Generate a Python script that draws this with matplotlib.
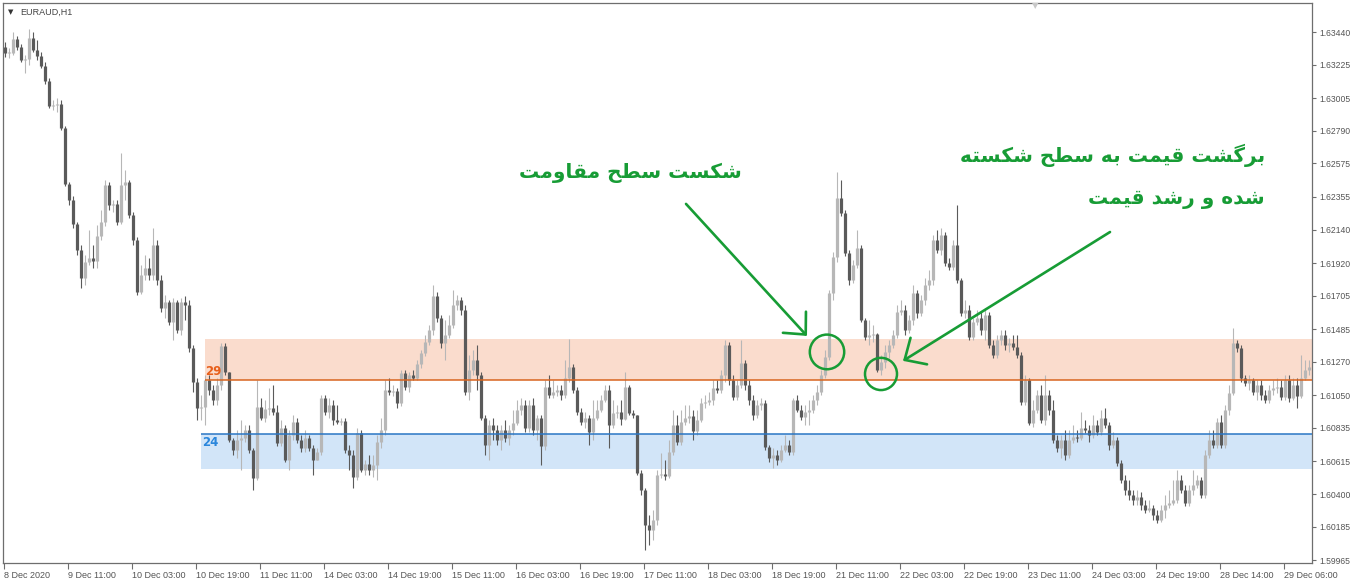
import matplotlib
matplotlib.use("Agg")
import matplotlib.pyplot as plt
import numpy as np
from matplotlib.patches import Ellipse

# EURAUD H1 candles (prices), open = previous close
first_open = 1.63342
closes = [
    1.63302, 1.63302, 1.63394, 1.63342, 1.63256, 1.63263, 1.63401, 1.63322, 1.63282, 1.63217,
    1.63118, 1.62954, 1.62960, 1.62967, 1.62809, 1.62440, 1.62335, 1.62177, 1.62006, 1.61822,
    1.61927, 1.61953, 1.61933, 1.62098, 1.62190, 1.62434, 1.62302, 1.62309, 1.62190, 1.62434,
    1.62453, 1.62236, 1.62072, 1.61730, 1.61841, 1.61887, 1.61841, 1.62039, 1.61808, 1.61624,
    1.61664, 1.61532, 1.61664, 1.61480, 1.61664, 1.61644, 1.61361, 1.61137, 1.60966, 1.60973,
    1.61151, 1.61085, 1.61019, 1.61118, 1.61374, 1.61203, 1.60756, 1.60690, 1.60756, 1.60769,
    1.60822, 1.60690, 1.60506, 1.60973, 1.60901, 1.60960, 1.60966, 1.60940, 1.60736, 1.60835,
    1.60624, 1.60789, 1.60874, 1.60756, 1.60703, 1.60769, 1.60703, 1.60624, 1.60677, 1.61032,
    1.60940, 1.60986, 1.60887, 1.60874, 1.60881, 1.60690, 1.60657, 1.60512, 1.60802, 1.60558,
    1.60598, 1.60558, 1.60591, 1.60743, 1.60822, 1.61085, 1.61072, 1.61078, 1.60999, 1.61197,
    1.61105, 1.61183, 1.61164, 1.61256, 1.61328, 1.61401, 1.61480, 1.61703, 1.61559, 1.61394,
    1.61447, 1.61512, 1.61644, 1.61677, 1.61611, 1.61072, 1.61216, 1.61282, 1.61183, 1.60901,
    1.60723, 1.60854, 1.60822, 1.60756, 1.60822, 1.60769, 1.60822, 1.60868, 1.60953, 1.60986,
    1.60835, 1.60986, 1.60822, 1.60901, 1.60716, 1.61105, 1.61052, 1.61072, 1.61085, 1.61052,
    1.61164, 1.61236, 1.61085, 1.60940, 1.60874, 1.60901, 1.60809, 1.60901, 1.60953, 1.61019,
    1.61085, 1.60854, 1.60934, 1.60940, 1.60894, 1.61105, 1.60934, 1.60920, 1.60539, 1.60427,
    1.60196, 1.60164, 1.60229, 1.60525, 1.60532, 1.60519, 1.60677, 1.60854, 1.60743, 1.60874,
    1.60901, 1.60914, 1.60815, 1.60887, 1.60999, 1.61006, 1.61019, 1.61098, 1.61085, 1.61183,
    1.61381, 1.61151, 1.61039, 1.61118, 1.61262, 1.61118, 1.61019, 1.60920, 1.60986, 1.60999,
    1.60710, 1.60637, 1.60657, 1.60624, 1.60690, 1.60723, 1.60677, 1.61019, 1.60953, 1.60907,
    1.60940, 1.60953, 1.61019, 1.61072, 1.61183, 1.61302, 1.61723, 1.61960, 1.62348, 1.62250,
    1.61986, 1.61808, 1.61907, 1.62019, 1.61545, 1.61434, 1.61447, 1.61453, 1.61216, 1.61269,
    1.61335, 1.61381, 1.61447, 1.61598, 1.61611, 1.61480, 1.61545, 1.61723, 1.61591, 1.61677,
    1.61776, 1.61808, 1.62072, 1.62006, 1.62105, 1.61920, 1.61894, 1.62039, 1.61808, 1.61591,
    1.61611, 1.61434, 1.61532, 1.61559, 1.61480, 1.61578, 1.61381, 1.61315, 1.61414, 1.61447,
    1.61381, 1.61394, 1.61368, 1.61315, 1.61006, 1.61151, 1.60868, 1.60953, 1.61052, 1.60887,
    1.61052, 1.60953, 1.60756, 1.60703, 1.60756, 1.60657, 1.60756, 1.60775, 1.60769, 1.60835,
    1.60822, 1.60789, 1.60854, 1.60809, 1.60901, 1.60854, 1.60723, 1.60756, 1.60604, 1.60493,
    1.60427, 1.60394, 1.60361, 1.60381, 1.60328, 1.60295, 1.60308, 1.60262, 1.60229, 1.60295,
    1.60328, 1.60341, 1.60361, 1.60493, 1.60427, 1.60341, 1.60427, 1.60460, 1.60493, 1.60394,
    1.60657, 1.60756, 1.60723, 1.60874, 1.60723, 1.60953, 1.61065, 1.61394, 1.61361, 1.61164,
    1.61131, 1.61151, 1.61072, 1.61118, 1.61052, 1.61019, 1.61085, 1.61098, 1.61105, 1.61039,
    1.61151, 1.61032, 1.61118, 1.61045, 1.61164, 1.61216, 1.61236,
]
highs = [
    1.63375, 1.63335, 1.63441, 1.63414, 1.63362, 1.63289, 1.63460, 1.63441, 1.63388, 1.63309,
    1.63243, 1.63138, 1.62993, 1.63006, 1.62993, 1.62822, 1.62453, 1.62361, 1.62190, 1.62039,
    1.61973, 1.62137, 1.62039, 1.62170, 1.62269, 1.62467, 1.62453, 1.62335, 1.62335, 1.62644,
    1.62532, 1.62467, 1.62256, 1.62092, 1.61907, 1.61973, 1.61953, 1.62151, 1.62072, 1.61841,
    1.61710, 1.61677, 1.61690, 1.61677, 1.61690, 1.61703, 1.61677, 1.61381, 1.61164, 1.61052,
    1.61183, 1.61183, 1.61118, 1.61164, 1.61394, 1.61394, 1.61203, 1.60769, 1.60822, 1.60887,
    1.60854, 1.60854, 1.60703, 1.61151, 1.61032, 1.61019, 1.61098, 1.61118, 1.60986, 1.60887,
    1.60854, 1.60822, 1.60920, 1.60901, 1.60789, 1.60822, 1.60789, 1.60723, 1.60703, 1.61052,
    1.61052, 1.61032, 1.61019, 1.60986, 1.60901, 1.60901, 1.60723, 1.60690, 1.60835, 1.60822,
    1.60624, 1.60657, 1.60657, 1.60789, 1.60901, 1.61151, 1.61164, 1.61118, 1.61098, 1.61216,
    1.61216, 1.61203, 1.61216, 1.61282, 1.61348, 1.61447, 1.61512, 1.61776, 1.61730, 1.61578,
    1.61545, 1.61578, 1.61743, 1.61710, 1.61697, 1.61644, 1.61315, 1.61348, 1.61381, 1.61203,
    1.60920, 1.60887, 1.60901, 1.60854, 1.60854, 1.60887, 1.60854, 1.60953, 1.61019, 1.61032,
    1.61019, 1.61019, 1.61032, 1.60920, 1.60920, 1.61151, 1.61183, 1.61151, 1.61118, 1.61118,
    1.61282, 1.61420, 1.61256, 1.61105, 1.60966, 1.60940, 1.60920, 1.61019, 1.61019, 1.61052,
    1.61118, 1.61118, 1.61019, 1.60986, 1.61019, 1.61203, 1.61118, 1.60953, 1.60920, 1.60558,
    1.60440, 1.60262, 1.60295, 1.60558, 1.60670, 1.60624, 1.60756, 1.60953, 1.60920, 1.60953,
    1.60986, 1.60986, 1.60953, 1.60953, 1.61032, 1.61052, 1.61072, 1.61151, 1.61151, 1.61216,
    1.61414, 1.61401, 1.61183, 1.61151, 1.61414, 1.61282, 1.61151, 1.61052, 1.61019, 1.61032,
    1.61019, 1.60723, 1.60703, 1.60690, 1.60723, 1.60789, 1.60756, 1.61032, 1.61052, 1.60986,
    1.60986, 1.61019, 1.61052, 1.61118, 1.61216, 1.61348, 1.61743, 1.61993, 1.62519, 1.62467,
    1.62269, 1.62006, 1.61940, 1.62137, 1.62039, 1.61559, 1.61545, 1.61512, 1.61460, 1.61315,
    1.61381, 1.61414, 1.61480, 1.61644, 1.61677, 1.61644, 1.61578, 1.61776, 1.61743, 1.61710,
    1.61822, 1.61874, 1.62105, 1.62137, 1.62151, 1.62124, 1.61953, 1.62072, 1.62302, 1.61822,
    1.61677, 1.61644, 1.61559, 1.61611, 1.61598, 1.61624, 1.61598, 1.61414, 1.61447, 1.61480,
    1.61480, 1.61427, 1.61447, 1.61447, 1.61335, 1.61183, 1.61164, 1.61019, 1.61085, 1.61118,
    1.61183, 1.61085, 1.61019, 1.60789, 1.60789, 1.60822, 1.60822, 1.60854, 1.60822, 1.60940,
    1.60887, 1.60854, 1.60920, 1.60887, 1.60953, 1.60966, 1.60874, 1.60809, 1.60775, 1.60624,
    1.60525, 1.60493, 1.60427, 1.60427, 1.60414, 1.60361, 1.60361, 1.60328, 1.60295, 1.60328,
    1.60394, 1.60427, 1.60493, 1.60558, 1.60525, 1.60460, 1.60460, 1.60558, 1.60525, 1.60512,
    1.60690, 1.60822, 1.60822, 1.60901, 1.60920, 1.60986, 1.61118, 1.61493, 1.61414, 1.61381,
    1.61183, 1.61183, 1.61164, 1.61151, 1.61151, 1.61085, 1.61118, 1.61151, 1.61164, 1.61151,
    1.61183, 1.61183, 1.61164, 1.61164, 1.61315, 1.61282, 1.61282,
]
lows = [
    1.63276, 1.63269, 1.63289, 1.63322, 1.63243, 1.63171, 1.63223, 1.63309, 1.63256, 1.63204,
    1.63098, 1.62940, 1.62927, 1.62914, 1.62796, 1.62427, 1.62302, 1.62151, 1.61973, 1.61756,
    1.61776, 1.61907, 1.61887, 1.61887, 1.62072, 1.62164, 1.62269, 1.62256, 1.62170, 1.62177,
    1.62335, 1.62216, 1.62039, 1.61710, 1.61717, 1.61808, 1.61808, 1.61808, 1.61776, 1.61598,
    1.61559, 1.61512, 1.61414, 1.61460, 1.61447, 1.61545, 1.61335, 1.61072, 1.60887, 1.60887,
    1.60854, 1.61052, 1.60986, 1.60986, 1.61085, 1.61183, 1.60743, 1.60657, 1.60637, 1.60558,
    1.60743, 1.60670, 1.60427, 1.60493, 1.60887, 1.60874, 1.60920, 1.60920, 1.60716, 1.60716,
    1.60611, 1.60558, 1.60756, 1.60736, 1.60677, 1.60677, 1.60683, 1.60525, 1.60637, 1.60657,
    1.60920, 1.60901, 1.60854, 1.60861, 1.60854, 1.60670, 1.60558, 1.60440, 1.60493, 1.60545,
    1.60525, 1.60525, 1.60512, 1.60493, 1.60703, 1.60789, 1.61052, 1.61045, 1.60966, 1.60979,
    1.61085, 1.61072, 1.61151, 1.61151, 1.61230, 1.61309, 1.61381, 1.61447, 1.61532, 1.61361,
    1.61282, 1.61427, 1.61493, 1.61611, 1.61578, 1.61052, 1.61019, 1.61183, 1.61085, 1.60887,
    1.60657, 1.60624, 1.60756, 1.60723, 1.60690, 1.60743, 1.60723, 1.60789, 1.60854, 1.60920,
    1.60809, 1.60809, 1.60789, 1.60756, 1.60591, 1.60690, 1.61032, 1.61032, 1.61045, 1.61019,
    1.61032, 1.61137, 1.61065, 1.60920, 1.60854, 1.60835, 1.60723, 1.60756, 1.60887, 1.60940,
    1.61006, 1.60703, 1.60835, 1.60901, 1.60854, 1.60887, 1.60920, 1.60901, 1.60525, 1.60394,
    1.60032, 1.60065, 1.60098, 1.60196, 1.60506, 1.60493, 1.60506, 1.60657, 1.60723, 1.60723,
    1.60854, 1.60868, 1.60756, 1.60789, 1.60874, 1.60966, 1.60986, 1.60986, 1.61065, 1.61065,
    1.61137, 1.61118, 1.61019, 1.61019, 1.61098, 1.61085, 1.60986, 1.60887, 1.60901, 1.60953,
    1.60690, 1.60611, 1.60571, 1.60591, 1.60611, 1.60677, 1.60657, 1.60657, 1.60940, 1.60887,
    1.60854, 1.60854, 1.60934, 1.60986, 1.61052, 1.61164, 1.61282, 1.61677, 1.61927, 1.62230,
    1.61967, 1.61776, 1.61789, 1.61887, 1.61532, 1.61414, 1.61381, 1.61401, 1.61203, 1.61183,
    1.61230, 1.61295, 1.61361, 1.61427, 1.61578, 1.61447, 1.61460, 1.61512, 1.61559, 1.61572,
    1.61644, 1.61743, 1.61776, 1.61986, 1.61973, 1.61901, 1.61874, 1.61874, 1.61789, 1.61572,
    1.61559, 1.61414, 1.61414, 1.61512, 1.61447, 1.61414, 1.61361, 1.61295, 1.61295, 1.61381,
    1.61348, 1.61335, 1.61348, 1.61295, 1.60986, 1.60986, 1.60854, 1.60841, 1.60934, 1.60868,
    1.60854, 1.60920, 1.60736, 1.60677, 1.60637, 1.60624, 1.60637, 1.60736, 1.60743, 1.60756,
    1.60802, 1.60743, 1.60769, 1.60789, 1.60789, 1.60835, 1.60690, 1.60703, 1.60585, 1.60473,
    1.60394, 1.60361, 1.60328, 1.60328, 1.60295, 1.60275, 1.60282, 1.60229, 1.60209, 1.60216,
    1.60242, 1.60308, 1.60328, 1.60341, 1.60407, 1.60321, 1.60321, 1.60394, 1.60440, 1.60374,
    1.60374, 1.60637, 1.60703, 1.60703, 1.60703, 1.60703, 1.60920, 1.61052, 1.61335, 1.61137,
    1.61111, 1.61085, 1.61052, 1.61019, 1.61019, 1.60999, 1.60999, 1.61052, 1.61065, 1.61019,
    1.61019, 1.61006, 1.61019, 1.60966, 1.61032, 1.61151, 1.61183,
]

price_ticks = [1.63440, 1.63225, 1.63005, 1.62790, 1.62575, 1.62355, 1.62140, 1.61920, 1.61705,
               1.61485, 1.61270, 1.61050, 1.60835, 1.60615, 1.60400, 1.60185, 1.59965]
time_labels = ["8 Dec 2020", "9 Dec 11:00", "10 Dec 03:00", "10 Dec 19:00", "11 Dec 11:00",
               "14 Dec 03:00", "14 Dec 19:00", "15 Dec 11:00", "16 Dec 03:00", "16 Dec 19:00",
               "17 Dec 11:00", "18 Dec 03:00", "18 Dec 19:00", "21 Dec 11:00", "22 Dec 03:00",
               "22 Dec 19:00", "23 Dec 11:00", "24 Dec 03:00", "24 Dec 19:00", "28 Dec 14:00",
               "29 Dec 06:00"]

# resistance / support zone drawn on the chart
upper_zone = (1.61420, 1.61151)   # top of box, orange line
lower_zone = (1.60795, 1.60565)   # blue line, bottom of box
upper_label, lower_label = "29", "24"

note_break = "شکست سطح مقاومت"
note_retest = ["برگشت قیمت به سطح شکسته", "شده و رشد قیمت"]

GREEN = "#179c35"
BULL = "#b7b7b7"
BEAR = "#5a5a5a"

# --- minimal Persian shaping (matplotlib has no complex text layout) ---
DUAL = {
    "ب": (0xFE8F, 0xFE90, 0xFE91, 0xFE92), "ت": (0xFE95, 0xFE96, 0xFE97, 0xFE98),
    "ح": (0xFEA1, 0xFEA2, 0xFEA3, 0xFEA4), "س": (0xFEB1, 0xFEB2, 0xFEB3, 0xFEB4),
    "ش": (0xFEB5, 0xFEB6, 0xFEB7, 0xFEB8), "ط": (0xFEC1, 0xFEC2, 0xFEC3, 0xFEC4),
    "ق": (0xFED5, 0xFED6, 0xFED7, 0xFED8), "م": (0xFEE1, 0xFEE2, 0xFEE3, 0xFEE4),
    "ه": (0xFEE9, 0xFEEA, 0xFEEB, 0xFEEC), "ک": (0xFB8E, 0xFB8F, 0xFB90, 0xFB91),
    "گ": (0xFB92, 0xFB93, 0xFB94, 0xFB95), "ی": (0xFBFC, 0xFBFD, 0xFBFE, 0xFBFF),
}
RIGHT = {"د": (0xFEA9, 0xFEAA), "ر": (0xFEAD, 0xFEAE), "و": (0xFEED, 0xFEEE), "ا": (0xFE8D, 0xFE8E)}


def shape(text: str) -> str:
    out = []
    for k, ch in enumerate(text):
        if ch not in DUAL and ch not in RIGHT:
            out.append(ch)
            continue
        prev = text[k - 1] if k > 0 else ""
        nxt = text[k + 1] if k + 1 < len(text) else ""
        jp = prev in DUAL
        if ch in RIGHT:
            out.append(chr(RIGHT[ch][1 if jp else 0]))
            continue
        jn = nxt in DUAL or nxt in RIGHT
        form = 3 if (jp and jn) else 1 if jp else 2 if jn else 0
        out.append(chr(DUAL[ch][form]))
    return "".join(reversed(out))


closes = np.array(closes)
opens = np.r_[first_open, closes[:-1]]
highs = np.maximum(np.array(highs), np.maximum(opens, closes))
lows = np.minimum(np.array(lows), np.minimum(opens, closes))
idx = np.arange(len(closes))
up = closes >= opens
colors = np.where(up, BULL, BEAR)

fig = plt.figure(figsize=(13.6, 5.8), dpi=100)
ax = fig.add_axes([3 / 1360, 17 / 580, 1309 / 1360, 560 / 580])
x_lo, x_hi = -0.5, 326.75
ax.set_xlim(x_lo, x_hi)
ax.set_ylim(1.59946, 1.63631)

# zones
ax.fill_between([50, x_hi], upper_zone[1], upper_zone[0], color="#fadccd", lw=0, zorder=1)
ax.fill_between([49, x_hi], lower_zone[1], lower_zone[0], color="#d2e5f8", lw=0, zorder=1)

# candles: 1px wick, 3px body
ax.vlines(idx, lows, highs, colors=colors, lw=0.8, zorder=2)
body_lo = np.minimum(opens, closes)
body_hi = np.maximum(np.maximum(opens, closes), body_lo + 0.00007)
ax.vlines(idx, body_lo, body_hi, colors=colors, lw=2.3, zorder=2, capstyle="butt")

ax.hlines(upper_zone[1], 50, x_hi, color="#d8641f", lw=1.1, zorder=3)
ax.hlines(lower_zone[0], 49, x_hi, color="#2a76c4", lw=1.1, zorder=3)
ax.text(50, upper_zone[1] + 0.00012, upper_label, color="#e8601c", fontsize=8.5,
        fontweight="bold", ha="left", va="bottom", zorder=4)
ax.text(49.2, lower_zone[0] - 0.00012, lower_label, color="#2a86dc", fontsize=8.5,
        fontweight="bold", ha="left", va="top", zorder=4)

# annotations
ax.add_patch(Ellipse((205.5, 1.61335), 8.6, 0.00228, fill=False, ec=GREEN, lw=1.8, zorder=5))
ax.add_patch(Ellipse((219.0, 1.61190), 8.0, 0.00212, fill=False, ec=GREEN, lw=1.8, zorder=5))
arrow = dict(arrowstyle="->,head_length=0.8,head_width=0.75", color=GREEN, lw=1.9,
             mutation_scale=15, shrinkA=0, shrinkB=0)
ax.annotate("", xy=(200.5, 1.61440), xytext=(170.25, 1.62309), arrowprops=arrow, zorder=5)
ax.annotate("", xy=(224.5, 1.61276), xytext=(276.25, 1.62124), arrowprops=arrow, zorder=5)

note_style = dict(color=GREEN, fontsize=14.5, fontweight="bold", va="center",
                  family="DejaVu Sans", zorder=5)
ax.text(156.25, 1.62513, shape(note_break), ha="center", **note_style)
ax.text(315, 1.62631, shape(note_retest[0]), ha="right", **note_style)
ax.text(315, 1.62335, shape(note_retest[1]), ha="right", **note_style)

# axes styling, MT4 look
for s in ax.spines.values():
    s.set_color("#6e6e6e")
    s.set_linewidth(0.9)
ax.yaxis.tick_right()
ax.set_yticks(price_ticks)
ax.set_yticklabels([f"{p:.5f}" for p in price_ticks])
ax.set_xticks([16 * k - 0.25 for k in range(len(time_labels))])
ax.set_xticklabels(time_labels, ha="left")
ax.tick_params(axis="y", direction="out", length=3, width=0.8, colors="#6e6e6e",
               labelcolor="#555555", labelsize=6.2, pad=2)
ax.tick_params(axis="x", direction="out", length=4, width=0.8, colors="#6e6e6e",
               labelcolor="#555555", labelsize=6.5, pad=2)
for lab in ax.get_xticklabels() + ax.get_yticklabels():
    lab.set_family("Liberation Sans")

# chart header and the small chart-shift marker at the top
fig.text(8 / 1360, 1 - 12 / 580, "▼", fontsize=5, color="#333333", va="center")
fig.text(20 / 1360, 1 - 12 / 580, "EURAUD,H1", fontsize=6.5, color="#444444",
         va="center", family="Liberation Sans")
fig.text(1035 / 1360, 1 - 6 / 580, "▼", fontsize=6, color="#c8c8c8", ha="center", va="center")

fig.savefig("out.png", dpi=100, facecolor="white")
